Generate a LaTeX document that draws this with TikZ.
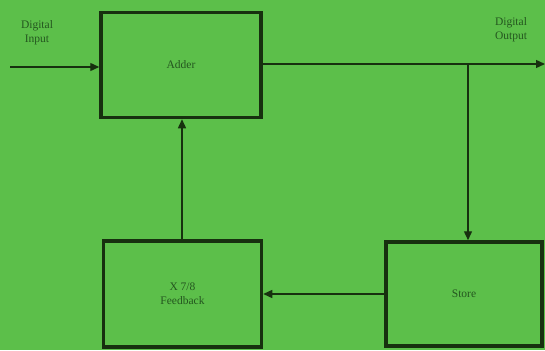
\documentclass[tikz,border=0pt]{standalone}
\usepackage{fontspec}
\setmainfont{Liberation Serif}
\usetikzlibrary{arrows.meta}
\definecolor{bg}{HTML}{5CBF4A}
\definecolor{ink}{HTML}{17300F}
\definecolor{txt}{HTML}{24561F}
\begin{document}
\begin{tikzpicture}[x=1pt,y=-1pt,
  blk/.style={draw=ink,line width=3.5pt,inner sep=0pt},
  con/.style={draw=ink,line width=1.4pt,-{Triangle[length=9pt,width=8pt]}},
  lbl/.style={text=txt,font=\fontsize{11.5}{14}\selectfont,align=center}]
\fill[bg] (0,0) rectangle (545,350);
\useasboundingbox (0,0) rectangle (545,350);
\node[blk,minimum width=160pt,minimum height=105pt] (adder) at (181,65) {};
\node[lbl] at (adder.center) {Adder};
\node[blk,minimum width=158pt,minimum height=106pt] (fb) at (182.5,294) {};
\node[lbl] at (fb.center) {X 7/8\\Feedback};
\node[blk,minimum width=156pt,minimum height=104pt] (store) at (464,294) {};
\node[lbl] at (store.center) {Store};
\node[lbl] at (37,33) {Digital\\Input};
\node[lbl] at (511,30) {Digital\\Output};
\coordinate (in) at (10,67);
\coordinate (out) at (545,64);
\coordinate (br) at (468,64);
\coordinate (up) at (182,0);
\draw[con] (in) -- (in -| adder.west);
\draw[con] (adder.east |- out) -- (out);
\draw[con] (br) -- (br |- store.north);
\draw[con] (store.west |- fb.east) -- (fb.east);
\draw[con] (up |- fb.north) -- (up |- adder.south);
\end{tikzpicture}
\end{document}
